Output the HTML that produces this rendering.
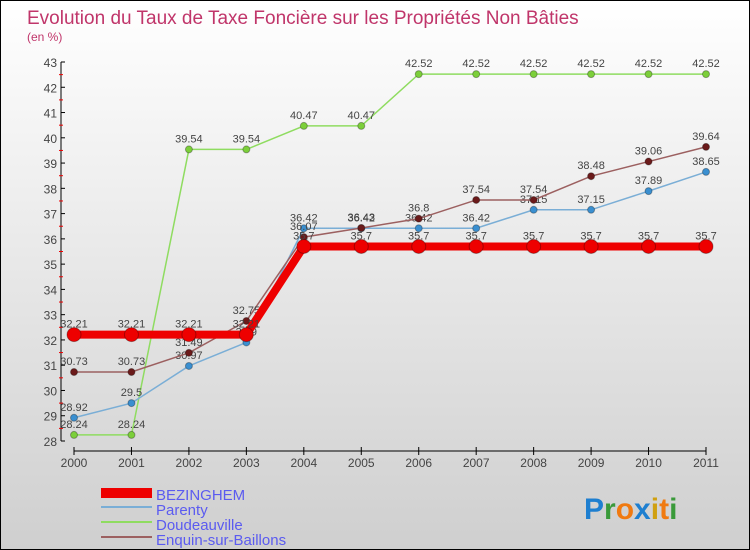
<!DOCTYPE html>
<html><head><meta charset="utf-8"><style>
body{margin:0}
#c{width:748px;height:548px;border:1px solid #000;background:linear-gradient(#fff,#cfcfcf);position:relative;font-family:"Liberation Sans",sans-serif;overflow:hidden}
</style></head><body>
<div id="c">
<svg id="s" width="748" height="548" style="position:absolute;left:0;top:0">
<text x="26" y="23" font-size="19" fill="#c0356a">Evolution du Taux de Taxe Foncière sur les Propriétés Non Bâties</text>
<text x="26" y="40" font-size="12" fill="#c0356a">(en %)</text>
<g id="axes"></g><g id="series"></g>
<g>
<rect x="100" y="487" width="51" height="10" fill="#e00"/>
<line x1="100" y1="506" x2="151" y2="506" stroke="#7aaed6" stroke-width="2"/>
<line x1="100" y1="521" x2="151" y2="521" stroke="#8fdc60" stroke-width="2"/>
<line x1="100" y1="536" x2="151" y2="536" stroke="#9c6060" stroke-width="2"/>
<text x="155" y="499" font-size="15" fill="#5b5bf0">BEZINGHEM</text>
<text x="155" y="514" font-size="15" fill="#5b5bf0">Parenty</text>
<text x="155" y="529" font-size="15" fill="#5b5bf0">Doudeauville</text>
<text x="155" y="544" font-size="15" fill="#5b5bf0">Enquin-sur-Baillons</text>
</g>
<text x="583" y="518" font-size="30" font-weight="bold"><tspan fill="#1e7fd0">P</tspan><tspan fill="#3a9a3a">r</tspan><tspan fill="#f07a10">o</tspan><tspan fill="#1e7fd0">x</tspan><tspan fill="#d0a010">i</tspan><tspan fill="#f07a10">t</tspan><tspan fill="#3a9a3a">i</tspan></text>
</svg></div>
<script>
const years=[2000,2001,2002,2003,2004,2005,2006,2007,2008,2009,2010,2011];
const yTicks=[28,29,30,31,32,33,34,35,36,37,38,39,40,41,42,43];
const bez=[32.21,32.21,32.21,32.21,35.7,35.7,35.7,35.7,35.7,35.7,35.7,35.7];
const par=[28.92,29.5,30.97,31.9,36.42,36.42,36.42,36.42,37.15,37.15,37.89,38.65];
const dou=[28.24,28.24,39.54,39.54,40.47,40.47,42.52,42.52,42.52,42.52,42.52,42.52];
const enq=[30.73,30.73,31.49,32.75,36.07,36.43,36.8,37.54,37.54,38.48,39.06,39.64];
const NS='http://www.w3.org/2000/svg';
const X=i=>73+i*(705-73)/11;
const Y=v=>440-(v-28)*(440-61)/15;
function mk(t,a,p){const e=document.createElementNS(NS,t);for(const k in a)e.setAttribute(k,a[k]);p.appendChild(e);return e;}
const ax=document.getElementById('axes');
let yl=mk('line',{x1:60,y1:Y(43),x2:60,y2:Y(28),stroke:'#000'},ax);


yTicks.forEach(v=>{
 mk('line',{x1:60,y1:Y(v),x2:64,y2:Y(v),stroke:'#000'},ax);
 if(v<43)mk('line',{x1:58,y1:Y(v+0.5),x2:62,y2:Y(v+0.5),stroke:'#e00'},ax);
 const t=mk('text',{x:56,y:Y(v)+5,'font-size':12,fill:'#444','text-anchor':'end'},ax);t.textContent=v;
 
 
});
let xl=mk('line',{x1:X(0),y1:450,x2:X(11),y2:450,stroke:'#000'},ax);


years.forEach((y,i)=>{
 mk('line',{x1:X(i),y1:446,x2:X(i),y2:454,stroke:'#000'},ax);
 const t=mk('text',{x:X(i),y:466,'font-size':12,fill:'#444','text-anchor':'middle'},ax);t.textContent=y;
 
 
});
const sg=document.getElementById('series');
function series(d,name,col,pt,w,r,lab){
 const g=mk('g',{},sg);
 
 
 mk('polyline',{points:d.map((v,i)=>X(i)+','+Y(v)).join(' '),fill:'none',stroke:col,'stroke-width':w},g);
 d.forEach((v,i)=>{
  const c=mk('circle',{cx:X(i),cy:Y(v),r:r,fill:pt,stroke:'rgba(0,0,0,0.3)'},g);
  
  
  const t=mk('text',{x:X(i),y:Y(v)-7,'font-size':11,fill:'#444','text-anchor':'middle'},g);t.textContent=v;
  
  
 });
}
series(dou,'doudeauville','#8fdc60','#7ccf3a',1.5,3.5);
series(par,'parenty','#7aaed6','#3a8fd0',1.5,3.5);
series(enq,'enquin','#9c6060','#6b1a1a',1.5,3.5);
series(bez,'bezinghem','#e00','#e00',8,7);
</script>
</body></html>
